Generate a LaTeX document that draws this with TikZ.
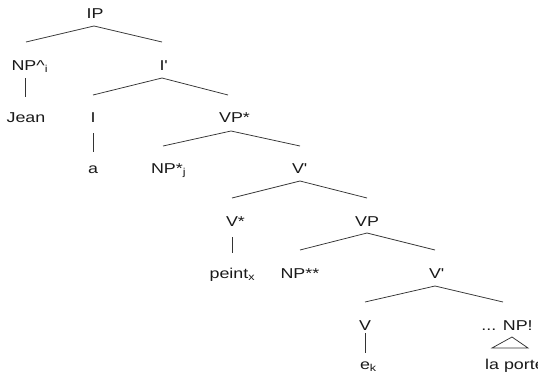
\documentclass[tikz,border=0pt]{standalone}
\usepackage{fontspec}
\setmainfont{Liberation Sans}[FakeStretch=1.25]
\begin{document}
\begin{tikzpicture}[x=1pt,y=-1pt,
  lbl/.style={inner sep=0pt,anchor=base,font=\fontsize{14.3}{16}\selectfont,text=black!90},
  br/.style={draw=black!80,line width=0.75pt}]
\useasboundingbox (0,0) rectangle (538,372);
% labels
\node[lbl] (ip) at (95,18) {IP};
\node[lbl] (npa) at (24,70) {NP\rlap{\textasciicircum\textsubscript{i}}};
\node[lbl] (ib) at (162,70) {I\rlap{\textquotesingle}};
\node[lbl] (jean) at (26,122) {Jean};
\node[lbl] (i) at (93,122) {I};
\node[lbl] (vps) at (231,122) {VP\rlap{*}};
\node[lbl] (a) at (93,173) {a};
\node[lbl] (nps) at (163.5,173) {NP\rlap{*\textsubscript{j}}};
\node[lbl] (vb1) at (298,173) {V\rlap{\textquotesingle}};
\node[lbl] (vs) at (232,226) {V\rlap{*}};
\node[lbl] (vp) at (367,226) {VP};
\node[lbl] (peint) at (229,278) {peint\rlap{\textsubscript{x}}};
\node[lbl] (npss) at (293,278) {NP\rlap{**}};
\node[lbl] (vb2) at (435,278) {V\rlap{\textquotesingle}};
\node[lbl] (v) at (365,330) {V};
\node[lbl] (npx) at (507,330) {... NP!};
\node[lbl] (ek) at (365,369) {e\rlap{\textsubscript{k}}};
\node[lbl] (porte) at (515,369) {la porte};
% branch points
\coordinate (ipA) at (94,26);   \coordinate (ipL) at (26,42);   \coordinate (ipR) at (162,42);
\coordinate (ibA) at (162,78);  \coordinate (ibL) at (93,95);   \coordinate (ibR) at (228,95);
\coordinate (vpsA) at (231,131);\coordinate (vpsL) at (163,146);\coordinate (vpsR) at (300,146);
\coordinate (vb1A) at (300,181);\coordinate (vb1L) at (232,198);\coordinate (vb1R) at (367,198);
\coordinate (vpA) at (367,233); \coordinate (vpL) at (300,250); \coordinate (vpR) at (435,250);
\coordinate (vb2A) at (435,286);\coordinate (vb2L) at (365,302);\coordinate (vb2R) at (503,302);
\draw[br] (ipL) -- (ipA) -- (ipR);
\draw[br] (ibL) -- (ibA) -- (ibR);
\draw[br] (vpsL) -- (vpsA) -- (vpsR);
\draw[br] (vb1L) -- (vb1A) -- (vb1R);
\draw[br] (vpL) -- (vpA) -- (vpR);
\draw[br] (vb2L) -- (vb2A) -- (vb2R);
% unary
\coordinate (u1a) at (25,78);  \coordinate (u1b) at (25,97);
\coordinate (u2a) at (93,133); \coordinate (u2b) at (93,152);
\coordinate (u3a) at (232,237);\coordinate (u3b) at (232,253);
\coordinate (u4a) at (365,333);\coordinate (u4b) at (365,353);
\draw[br] (u1a) -- (u1b);
\draw[br] (u2a) -- (u2b);
\draw[br] (u3a) -- (u3b);
\draw[br] (u4a) -- (u4b);
% triangle
\coordinate (tA) at (512,337); \coordinate (tL) at (492,348); \coordinate (tR) at (528,348);
\draw[br,line join=miter] (tA) -- (tL) -- (tR) -- cycle;
\end{tikzpicture}
\end{document}
